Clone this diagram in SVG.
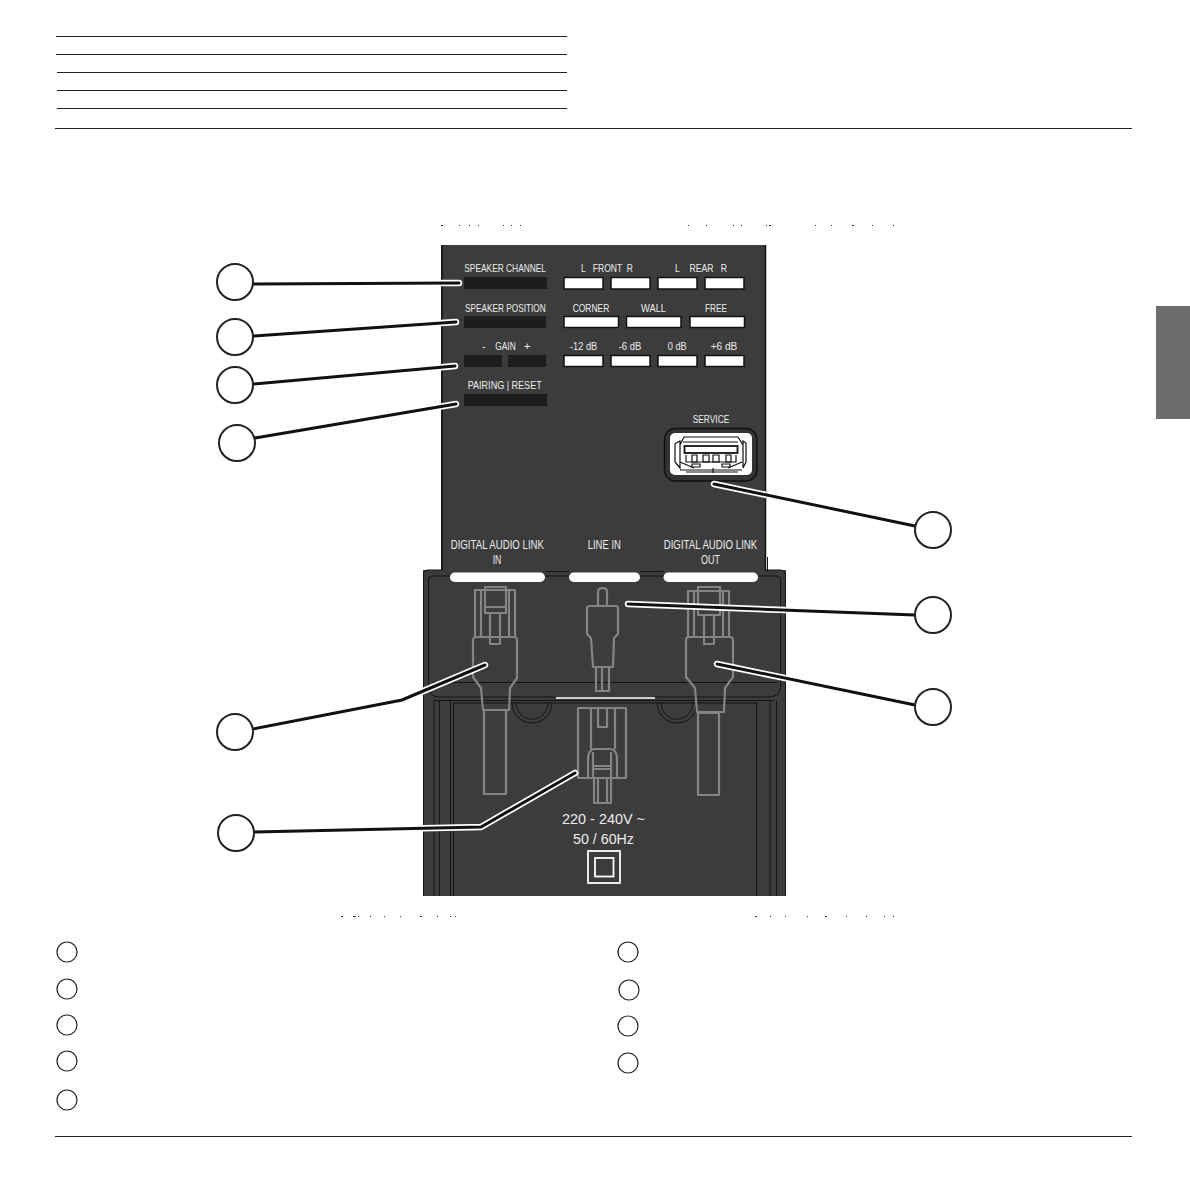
<svg xmlns="http://www.w3.org/2000/svg" width="1190" height="1190" viewBox="0 0 1190 1190">
<style>
.rule{stroke:#222;stroke-width:1;fill:none}
.panel{fill:#3c3c3c}
.edge{stroke:#141414;stroke-width:1;fill:none}
.wb{fill:#fff;stroke:#111;stroke-width:1.5}
.db{fill:#1d1d1d}
.t{font-family:"Liberation Sans",Arial,sans-serif;font-size:11.500px;fill:#ececec}
.m{font-size:12.500px}
.b{font-size:15.500px}
.p{fill:none;stroke:#848484;stroke-width:2.200;stroke-linejoin:round}
.c{fill:#fff;stroke:#222;stroke-width:2}
.ls{fill:#fff;stroke:#222;stroke-width:1.200}
.lw{fill:none;stroke:#fff;stroke-width:6.500;stroke-linecap:round;stroke-linejoin:miter}
.lb{fill:none;stroke:#111;stroke-width:3;stroke-linecap:round;stroke-linejoin:miter}
.u{fill:none;stroke:#111;stroke-width:1.200}
</style>
<defs>
<clipPath id="panels"><rect x="441" y="245" width="325" height="330"/><rect x="423" y="570" width="363" height="326"/></clipPath>
</defs>
<rect width="1190" height="1190" fill="#fff"/>
<g id="rules">
<path class="rule" d="M56 36.500H567M56 54.500H567M57 72.500H567M57 90.500H567M57 108.500H567M55 128.500H1132M55 1136.500H1132"/>
</g>
<rect id="tab" x="1156" y="306" width="34" height="113" fill="#6d6d6d"/>
<g id="specks" fill="#333">
<path d="M441 225h2v1h-2zM459 225h1v1h-1zM469 225h1v1h-1zM478 225h1v1h-1zM503 225h1v1h-1zM511 225h1v1h-1zM520 225h1v1h-1zM688 225h1v1h-1zM706 225h1v1h-1zM733 225h1v1h-1zM741 225h1v1h-1zM766 225h1v1h-1zM769 225h2v1h-2zM815 225h1v1h-1zM831 225h1v1h-1zM852 225h2v1h-2zM872 225h1v1h-1zM893 225h1v1h-1z"/>
<path d="M341 916h2v1h-2zM353 916h3v1h-3zM358 916h1v1h-1zM370 916h1v1h-1zM384 916h1v1h-1zM400 916h1v1h-1zM420 916h2v1h-2zM437 916h1v1h-1zM450 916h1v1h-1zM455 916h1v1h-1zM755 916h2v1h-2zM770 916h1v1h-1zM785 916h1v1h-1zM807 916h1v1h-1zM825 916h2v1h-2zM846 916h1v1h-1zM866 916h1v1h-1zM884 916h1v1h-1zM893 916h1v1h-1z"/>
</g>
<g id="upper-panel">
<rect class="panel" x="441" y="245" width="325" height="330"/>
<path d="M442 245V570M765.500 245V570" stroke="#111" stroke-width="1.500" fill="none"/>
</g>
<g id="lower-panel">
<rect class="panel" x="423" y="570" width="363" height="326"/>
<path class="edge" d="M423.500 896V574Q423.500 570 428 570H442M765 570H780Q785.500 570 785.500 576V896"/>
<path class="edge" d="M767.500 557V572"/>
<path class="edge" d="M428.500 687V580Q428.500 576 432 576H450M545 576H569M640 576H664M758 576H776Q780.500 576 780.500 580V687"/>
<path class="edge" d="M545 571.500H569M640 571.500H664"/>
<path class="edge" d="M433 682.500H777"/>
<path class="edge" d="M428.500 687Q429 696 438 697H556M654 697H770Q780 696 780.500 687"/>
<path class="edge" d="M434 700.500H774"/>
<path class="edge" d="M434 701V896M439.500 701V896M450.500 701V896M453.500 703V896M756.500 703V896M770 701V896M776.500 701V896"/>
<path class="edge" d="M453 703H757"/>
<path class="edge" d="M512 702C513 730 551 730 552 702M516 702C517 725 547 725 548 702M657 702C658 730 696 730 697 702M661 702C662 725 692 725 693 702"/>
<path d="M556 698H655" stroke="#fff" stroke-width="1.300" fill="none"/>
</g>
<g id="button-row-1">
<rect class="wb" x="564" y="277.500" width="39" height="11.500"/><rect class="wb" x="611" y="277.500" width="39" height="11.500"/><rect class="wb" x="658" y="277.500" width="39" height="11.500"/><rect class="wb" x="705" y="277.500" width="39" height="11.500"/>
<text class="t" x="581" y="272" textLength="52" lengthAdjust="spacingAndGlyphs">L&#160;&#160;&#160;FRONT&#160;&#160;R</text>
<text class="t" x="675" y="272" textLength="52" lengthAdjust="spacingAndGlyphs">L&#160;&#160;&#160;&#160;REAR&#160;&#160;&#160;R</text>
</g>
<g id="button-row-2">
<rect class="wb" x="564" y="316.500" width="54.500" height="11"/><rect class="wb" x="626.500" y="316.500" width="54.500" height="11"/><rect class="wb" x="690" y="316.500" width="54.500" height="11"/>
<text class="t" x="572.700" y="311.500" textLength="36.600" lengthAdjust="spacingAndGlyphs">CORNER</text><text class="t" x="641" y="311.500" textLength="25" lengthAdjust="spacingAndGlyphs">WALL</text><text class="t" x="705" y="311.500" textLength="22" lengthAdjust="spacingAndGlyphs">FREE</text>
</g>
<g id="button-row-3">
<rect class="wb" x="564" y="355.500" width="39" height="11"/><rect class="wb" x="611" y="355.500" width="39" height="11"/><rect class="wb" x="658" y="355.500" width="39" height="11"/><rect class="wb" x="705" y="355.500" width="39" height="11"/>
<text class="t" x="570" y="350" textLength="27.300" lengthAdjust="spacingAndGlyphs">-12 dB</text><text class="t" x="618.700" y="350" textLength="22.600" lengthAdjust="spacingAndGlyphs">-6 dB</text><text class="t" x="667.700" y="350" textLength="19" lengthAdjust="spacingAndGlyphs">0 dB</text><text class="t" x="710.700" y="350" textLength="26.600" lengthAdjust="spacingAndGlyphs">+6 dB</text>
</g>
<g id="speaker-channel"><rect class="db" x="464" y="277" width="83" height="12"/><text class="t" x="464.300" y="272" textLength="81.700" lengthAdjust="spacingAndGlyphs">SPEAKER CHANNEL</text></g>
<g id="speaker-position"><rect class="db" x="464" y="316" width="82" height="12"/><text class="t" x="465" y="311.500" textLength="80.700" lengthAdjust="spacingAndGlyphs">SPEAKER POSITION</text></g>
<g id="gain"><rect class="db" x="464" y="355" width="38" height="12"/><rect class="db" x="508" y="355" width="38" height="12"/><text class="t" x="482" y="350" textLength="3.500" lengthAdjust="spacingAndGlyphs">-</text><text class="t" x="495.300" y="350" textLength="20.400" lengthAdjust="spacingAndGlyphs">GAIN</text><text class="t" x="524" y="350" textLength="6.500" lengthAdjust="spacingAndGlyphs">+</text></g>
<g id="pairing-reset"><rect class="db" x="464" y="394" width="83" height="12"/><text class="t" x="467.700" y="389.300" textLength="74" lengthAdjust="spacingAndGlyphs">PAIRING | RESET</text></g>
<g id="service">
<text class="t" x="692.700" y="423.300" textLength="36.600" lengthAdjust="spacingAndGlyphs">SERVICE</text>
<rect x="664.500" y="428.500" width="92.500" height="52.500" rx="11" fill="#333" stroke="#111" stroke-width="1.500"/>
<rect x="670" y="433" width="82" height="42" rx="5" fill="#fff"/>
<path class="u" d="M680 445L684 437H738L743 445M680 470H742M676 443L680 441V468L675 462V444ZM743 441L746 443V462L743 468ZM683 442H738M686 455V462H736V455M680 462L694 468M742 462L728 468"/>
<path class="u" d="M692 455h5v7h-5zM703 455h6v7h-6zM713 455h6v7h-6zM726 455h5v7h-5zM692 464h8v3h-8zM722 464h8v3h-8zM713 468v5M686 472H738"/>
<rect x="684.500" y="446" width="53" height="7" fill="#fff" stroke="#111" stroke-width="1.800"/>
</g>
<g id="labels">
<rect x="450" y="572.500" width="95" height="9.500" rx="4.700" fill="#fff"/>
<rect x="569" y="572.500" width="71" height="9.500" rx="4.700" fill="#fff"/>
<rect x="663.500" y="572.500" width="94.500" height="9.500" rx="4.700" fill="#fff"/>
<text class="t m" x="450.700" y="549.300" textLength="93.300" lengthAdjust="spacingAndGlyphs">DIGITAL AUDIO LINK</text>
<text class="t m" x="492.700" y="564" textLength="8.600" lengthAdjust="spacingAndGlyphs">IN</text>
<text class="t m" x="587.700" y="549.300" textLength="33.300" lengthAdjust="spacingAndGlyphs">LINE IN</text>
<text class="t m" x="663.700" y="549.300" textLength="93.600" lengthAdjust="spacingAndGlyphs">DIGITAL AUDIO LINK</text>
<text class="t m" x="701" y="564" textLength="19" lengthAdjust="spacingAndGlyphs">OUT</text>
</g>
<g id="plug-in">
<path class="p" d="M475 637V590H515V637M481 590V637M509 590V637"/>
<path class="p" d="M485 587H506V613H485ZM485 607H506M490 613V644H500V613"/>
<path class="p" d="M477 637H514Q517 637 517 640V678L510 688L509 710H483L481 688L473 677V640Q473 637 477 637Z"/>
<path class="p" d="M484 710H506V794H484Z"/>
</g>
<g id="plug-line">
<path class="p" d="M598 606V592Q598 588 602.500 588Q607 588 607 592V606"/>
<path class="p" d="M587 608Q587 606 590 606H615Q618 606 618 608V634L614 638L613 667H593L591 638L587 634Z"/>
<path class="p" d="M596 668V691H609V668M602 668V691"/>
</g>
<g id="plug-out">
<path class="p" d="M688 637V591H729V637M694 591V637M723 591V637"/>
<path class="p" d="M698 587H720V615H698ZM698 609H720M704 615V644H714V615"/>
<path class="p" d="M689 637H730Q733 637 733 640V677L725 688L724 712H697L695 688L686 677V640Q686 637 689 637Z"/>
<path class="p" d="M698 713H719V795H698Z"/>
</g>
<g id="plug-power">
<path class="p" d="M578 708H626V778H578ZM591 708V749M615 708V749"/>
<path class="p" d="M598 708V727H607V708"/>
<path class="p" d="M588 778V760Q588 749 595 749H610Q617 749 617 760V778M593 766H611M593 769H611M593 752V778M611 752V778"/>
<path class="p" d="M594 778V803H611V778M598 778V803M607 778V803"/>
<text class="t b" x="562" y="824" textLength="83" lengthAdjust="spacingAndGlyphs">220 - 240V ~</text>
<text class="t b" x="573" y="844" textLength="61" lengthAdjust="spacingAndGlyphs">50 / 60Hz</text>
<rect x="588" y="851" width="32" height="32" fill="none" stroke="#fff" stroke-width="1.800"/>
<rect x="595" y="858" width="18.500" height="18.500" fill="none" stroke="#fff" stroke-width="1.800"/>
</g>
<g id="connectors">
<g clip-path="url(#panels)">
<path class="lw" d="M253 284L459 283"/>
<path class="lw" d="M253 336L456 322"/>
<path class="lw" d="M253 384L455 366"/>
<path class="lw" d="M255 438L456 404"/>
<path class="lw" d="M714 484L915 526"/>
<path class="lw" d="M628 604L915 615"/>
<path class="lw" d="M717 664L915 705"/>
<path class="lw" d="M253 729L402 700L485 665"/>
<path class="lw" d="M254 832L481 827L575 773"/>
</g>
<path class="lb" d="M253 284L459 283"/>
<path class="lb" d="M253 336L456 322"/>
<path class="lb" d="M253 384L455 366"/>
<path class="lb" d="M255 438L456 404"/>
<path class="lb" d="M714 484L915 526"/>
<path class="lb" d="M628 604L915 615"/>
<path class="lb" d="M717 664L915 705"/>
<path class="lb" d="M253 729L402 700L485 665"/>
<path class="lb" d="M254 832L481 827L575 773"/>
</g>
<g id="callouts">
<circle class="c" cx="235" cy="282" r="18"/><circle class="c" cx="235" cy="337" r="18"/><circle class="c" cx="235" cy="385" r="18"/><circle class="c" cx="237" cy="443" r="18"/>
<circle class="c" cx="933" cy="530" r="18"/><circle class="c" cx="933" cy="615" r="18"/><circle class="c" cx="933" cy="707" r="18"/>
<circle class="c" cx="235" cy="732" r="18"/><circle class="c" cx="236" cy="833" r="18"/>
</g>
<g id="legend">
<circle class="ls" cx="67" cy="952" r="10"/><circle class="ls" cx="67" cy="989" r="10"/><circle class="ls" cx="67" cy="1025" r="10"/><circle class="ls" cx="67" cy="1061" r="10"/><circle class="ls" cx="67" cy="1100" r="10"/>
<circle class="ls" cx="628" cy="952" r="10"/><circle class="ls" cx="629" cy="990" r="10"/><circle class="ls" cx="628" cy="1026" r="10"/><circle class="ls" cx="628" cy="1063" r="10"/>
</g>
</svg>
